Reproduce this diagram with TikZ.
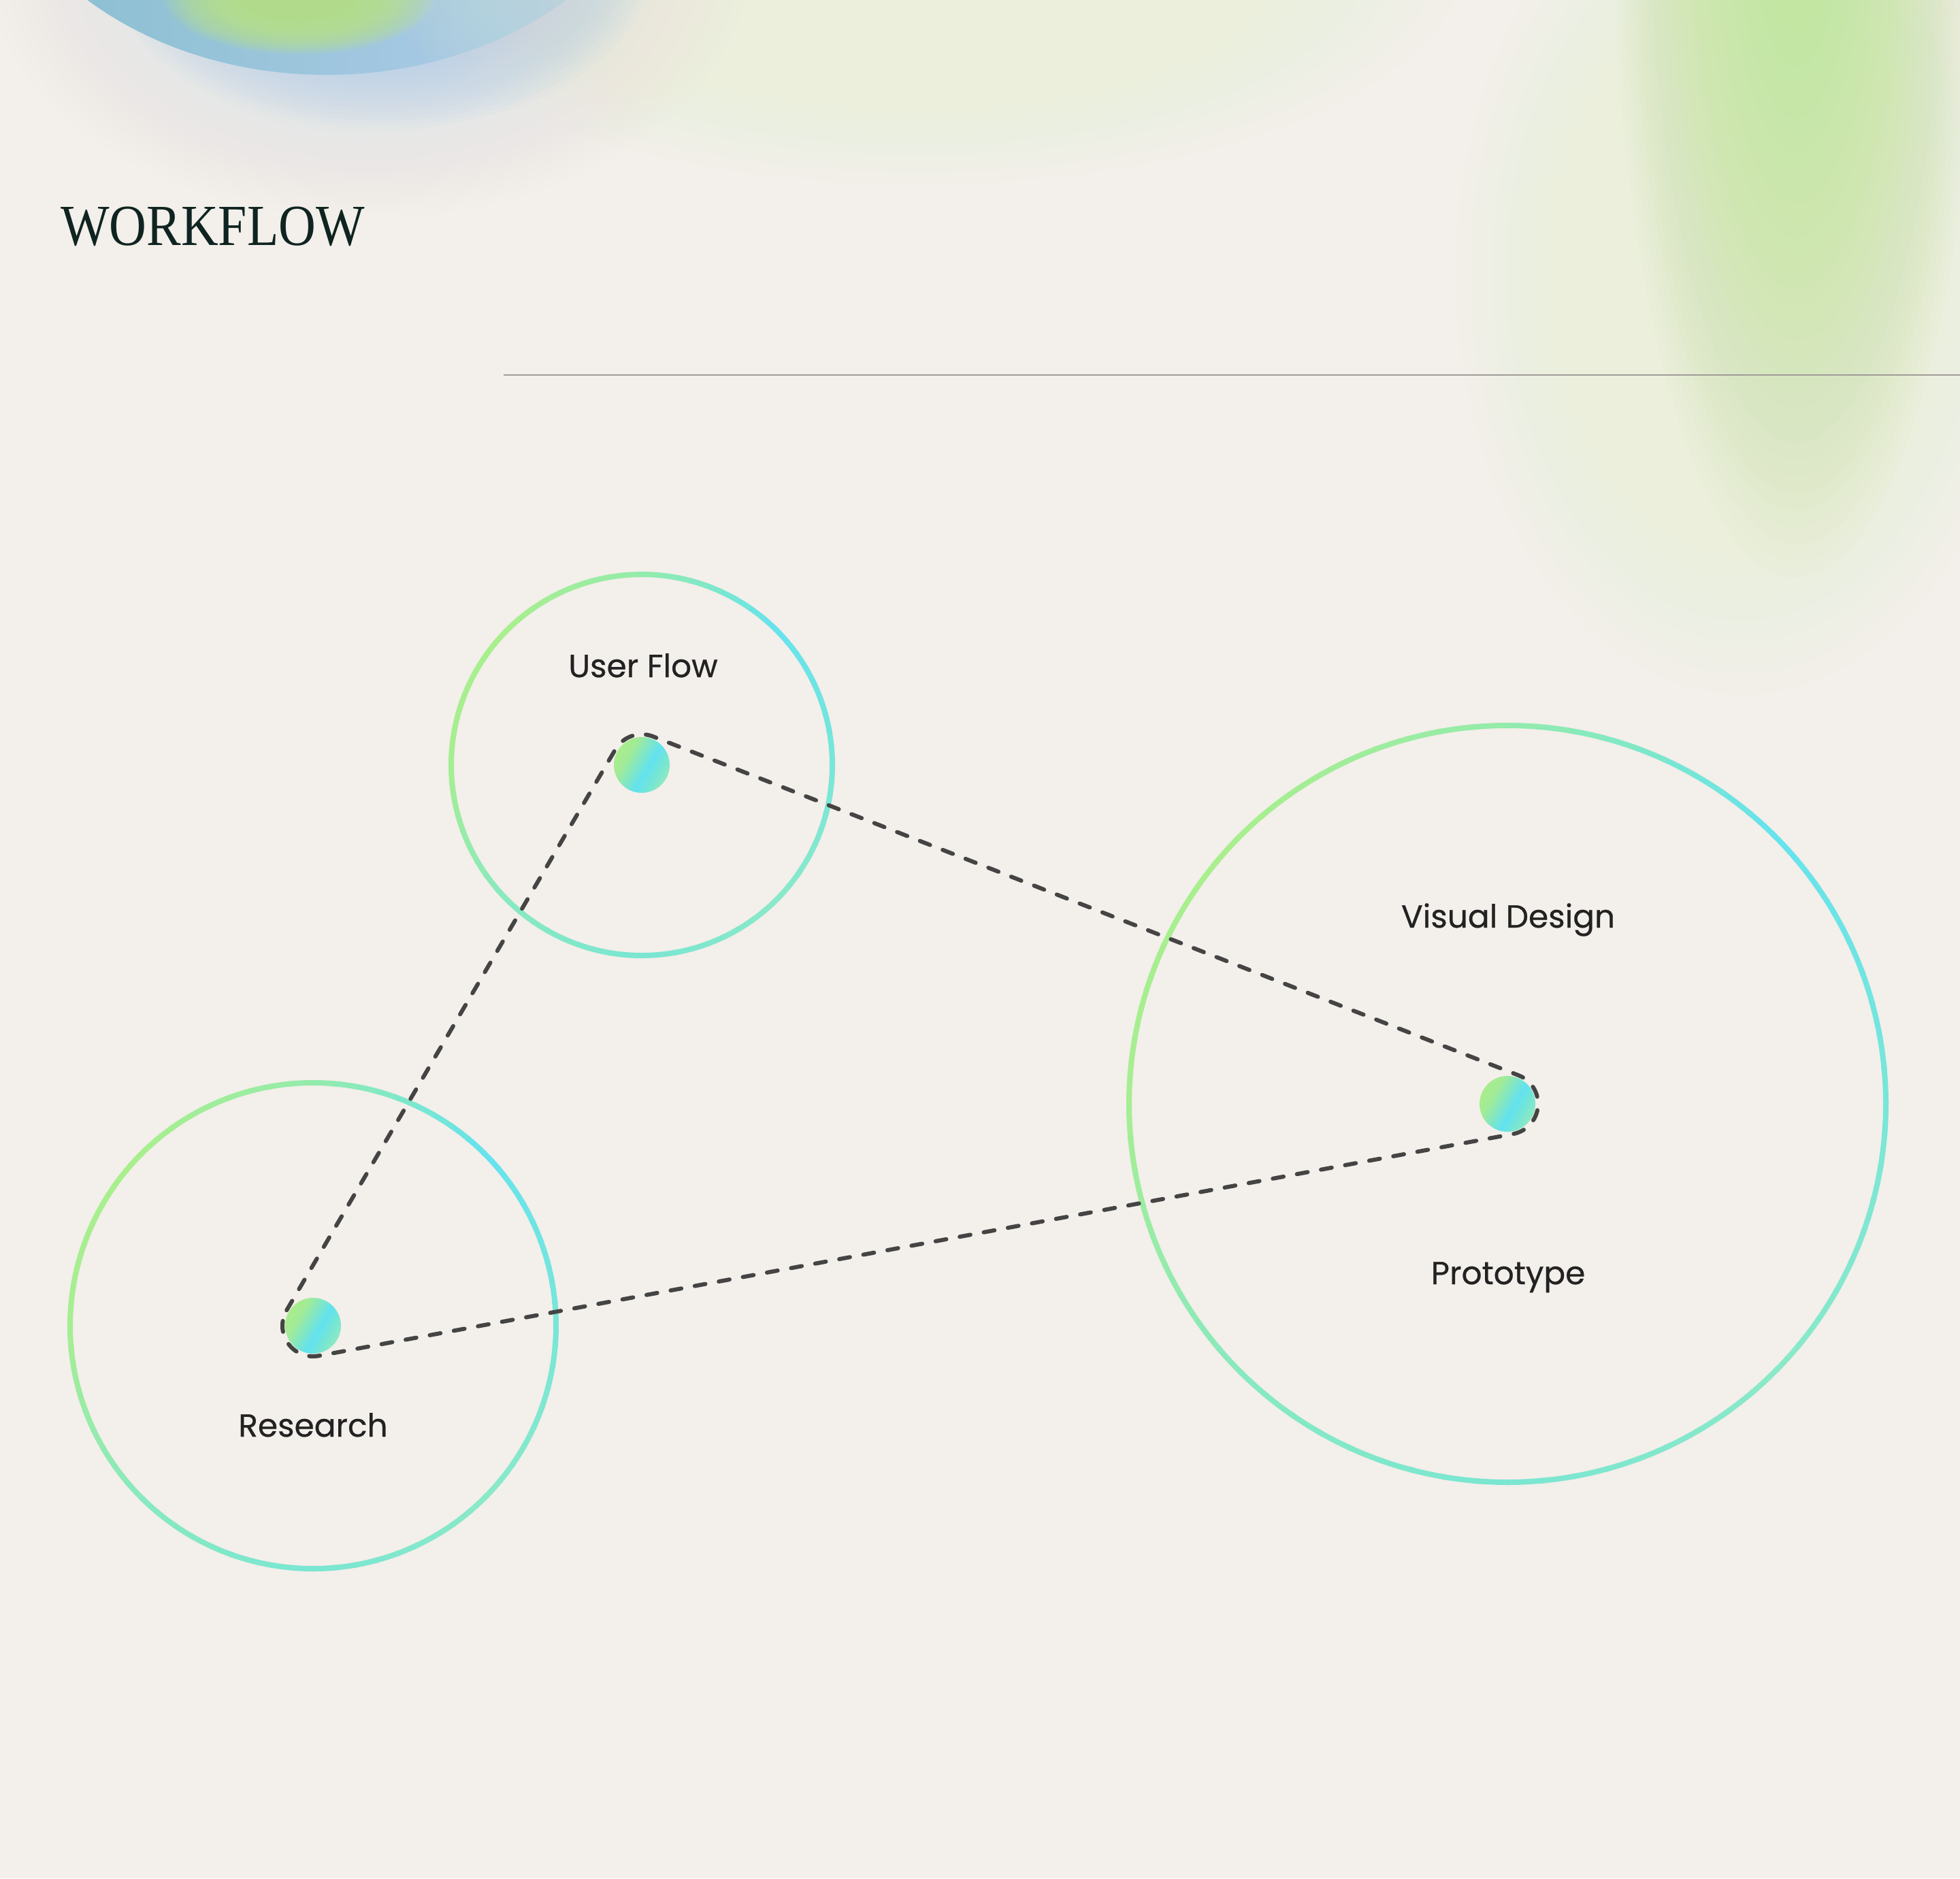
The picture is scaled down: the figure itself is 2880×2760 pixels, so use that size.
\documentclass[tikz,border=0pt]{standalone}
\usepackage{fontspec}
\usepackage{graphicx}
\newfontfamily\labelfont{Poppins}[FakeBold=0.5]
\newfontfamily\titlefont{Liberation Serif}
\usetikzlibrary{calc}

\definecolor{bg}{HTML}{F3EFEA}
\definecolor{titlecol}{HTML}{0F2420}
\definecolor{textcol}{HTML}{222222}
\definecolor{dashcol}{HTML}{444444}
\definecolor{rulecol}{HTML}{A09C98}
% ring colours by angle (0,45,...,315 degrees)
\definecolor{q0}{HTML}{78E6D8}
\definecolor{q1}{HTML}{66E3EE}
\definecolor{q2}{HTML}{94EBAB}
\definecolor{q3}{HTML}{A9EF8D}
\definecolor{q4}{HTML}{A6EE92}
\definecolor{q5}{HTML}{88E9C0}
\definecolor{q6}{HTML}{7AE6D3}
\definecolor{q7}{HTML}{8AE9C8}
% dot gradient stops
\definecolor{d0}{HTML}{A9EC8D}
\definecolor{d1}{HTML}{A2EB96}
\definecolor{d2}{HTML}{62E2F0}
\definecolor{d3}{HTML}{74E5D6}
\definecolor{d4}{HTML}{8EEAC0}
% background blobs
\definecolor{hazecol}{HTML}{E5E7E6}
\definecolor{bluecol}{HTML}{B6CFEE}
\definecolor{tealcol}{HTML}{86BDCD}
\definecolor{greencore}{HTML}{BAE48A}
\definecolor{trgreen}{HTML}{C3E69C}
\definecolor{trhaze}{HTML}{EBF0DC}

\pgfdeclarehorizontalshading{dotshade}{100bp}{color(0bp)=(d0); color(25bp)=(d0); color(35bp)=(d1); color(56bp)=(d2); color(65bp)=(d3); color(75bp)=(d4); color(100bp)=(d4)}

\newcommand\softblob[6]{% colour, cx, cy, rx, ry, alpha
  \foreach \k in {1,...,40}{\fill[#1, fill opacity=#6] (#2,#3) ellipse [x radius={#4/40*\k}, y radius={#5/40*\k}];}}

% ring with colour varying along the angle
\newcommand\gradring[3]{% centre node, radius, line width
  \foreach \a/\ca/\cb in {0/q0/q1, 45/q1/q2, 90/q2/q3, 135/q3/q4, 180/q4/q5, 225/q5/q6, 270/q6/q7, 315/q7/q0}{
    \foreach \s in {0,...,8}{
      \pgfmathsetmacro\ang{\a+5*\s}
      \pgfmathsetmacro\angb{\a+5*\s+5.7}
      \pgfmathtruncatemacro\p{100*(\s+0.5)/9}
      \draw[line width=#3, color=\cb!\p!\ca] ($(#1)+(\ang:#2)$) arc[start angle=\ang, end angle=\angb, radius=#2];
    }}}

\tikzset{
  dotnode/.style={circle, minimum size=82pt, inner sep=0pt, shade, shading=dotshade, shading angle=-30},
  hull/.style={draw=dashcol, line width=6pt, dash pattern=on 16pt off 20pt, line cap=round, line join=round},
  lbl/.style={anchor=base, inner sep=0pt, text=textcol, font=\labelfont\fontsize{47}{57}\selectfont},
  rulestyle/.style={draw=rulecol, line width=2pt}
}

\begin{document}
\begin{tikzpicture}[x=1pt,y=1pt]
\useasboundingbox (0,0) rectangle (2880,-2760);
\begin{scope}
\clip (0,0) rectangle (2880,-2760);
\fill[bg] (0,0) rectangle (2880,-2760);
% top-left blob
\softblob{hazecol}{540}{60}{560}{380}{0.06}
\softblob{bluecol}{560}{60}{400}{250}{0.075}
\shade[left color=tealcol, right color=bluecol] (480,300) ellipse [x radius=516, y radius=410];
\softblob{greencore}{440}{5}{200}{85}{0.1}
% top middle haze
\softblob{trhaze}{1350}{60}{800}{330}{0.03}
% top-right blob
\softblob{trhaze}{2560}{-400}{420}{620}{0.03}
\softblob{trgreen}{2640}{150}{270}{1000}{0.045}
\end{scope}

% title and rule
\node[anchor=base west, inner sep=0pt, text=titlecol, font=\titlefont\fontsize{85.5}{100}\selectfont] (title) at (89,-360) {\scalebox{0.887}[1]{WORKFLOW}};
\coordinate (ruleL) at (740,-551);
\coordinate (ruleR) at (2880,-551);
\draw[rulestyle] (ruleL) -- (ruleR);

% dots
\node[dotnode] (dR) at (460,-1948) {};
\node[dotnode] (dUF) at (943,-1124) {};
\node[dotnode] (dVD) at (2215,-1622) {};

% rings
\gradring{dUF}{280}{8pt}
\gradring{dR}{357}{8pt}
\gradring{dVD}{556}{8pt}

% dashed hull around the three dots
\draw[hull] ($(dR)+(149.62:45)$) -- ($(dUF)+(149.62:45)$)
  arc[start angle=149.62, end angle=68.62, radius=45]
  -- ($(dVD)+(68.62:45)$)
  arc[start angle=68.62, end angle=-79.48, radius=45]
  -- ($(dR)+(-79.48:45)$)
  arc[start angle=280.52, end angle=149.62, radius=45] -- cycle;

% labels
\node[lbl] (tUF) at (945,-995) {User Flow};
\node[lbl] (tVD) at (2216,-1363) {Visual Design};
\node[lbl] (tPR) at (2216,-1887) {Prototype};
\node[lbl] (tR) at (460,-2111) {Research};
\end{tikzpicture}
\end{document}
